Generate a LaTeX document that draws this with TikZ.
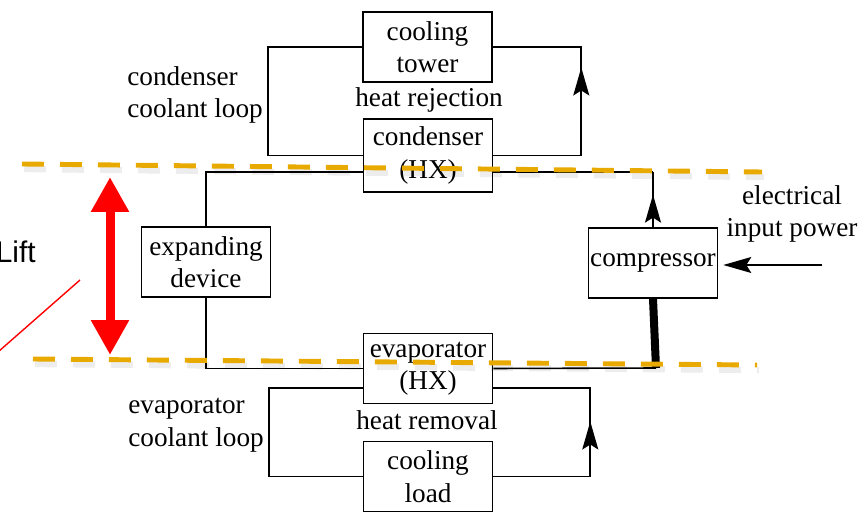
\documentclass[tikz,border=0pt]{standalone}
\usepackage{fontspec}
\setmainfont{Liberation Serif}
\newfontfamily\liftfont{Liberation Sans}
\usetikzlibrary{arrows.meta,calc}

\definecolor{gold}{HTML}{E8AA00}
\tikzstyle{block} = [draw, fill=white, line width=0.9pt, minimum width=2.58cm, minimum height=1.4cm, inner sep=1pt, align=center, font=\rmfamily\fontsize{15.5}{18.5}\selectfont]
\tikzstyle{note} = [align=left, inner sep=0pt, font=\rmfamily\fontsize{15.5}{18.5}\selectfont]
\tikzstyle{pipe} = [line width=0.9pt]
\tikzstyle{flow} = [pipe, -{Stealth[length=0.56cm,width=0.32cm,inset=0.1cm]}]
\tikzstyle{templine} = [line width=2.8pt, gold, dash pattern=on 0.44cm off 0.32cm]
\tikzstyle{tempshadow} = [templine, line width=3.6pt, black, opacity=0.07]
\tikzstyle{liftarrow} = [red, line width=0.18cm, {Triangle[length=0.7cm,width=0.72cm]}-{Triangle[length=0.7cm,width=0.72cm]}]

\begin{document}
\begin{tikzpicture}[x=0.02cm, y=-0.02cm]
\useasboundingbox (0,0) rectangle (868,513);
%blokken
\node[block] (tower) at (427.5,47) {cooling\\tower};
\node[block, minimum height=1.46cm] (cond) at (428,155.5) {condenser\\(HX)};
\node[block] (exp) at (206,262) {expanding\\device};
\node[block] (comp) at (653,263) {compressor};
\node[block] (evap) at (428,368.5) {evaporator\\(HX)};
\node[block] (load) at (428,476.5) {cooling\\load};
%begin koelmiddel-kring
\coordinate (ctop) at (653,172);
\coordinate (cbot) at (656,368);
\draw[pipe] (exp.north) |- (cond.west |- ctop);
\draw[pipe] (cond.east |- ctop) -- (ctop);
\draw[pipe] (comp.north) -- (ctop);
\draw[flow] (comp.north) -- ($(comp.north)!0.59!(ctop)$);
\draw[pipe] (exp.south) |- (evap.west);
\draw[pipe] (evap.east) -- (cbot);
\draw[line width=1.6mm] (cbot) -- (comp.south);
%end koelmiddel-kring
%begin condensor-kring
\draw[pipe] (cond.west) -- ++(-95,0) |- (tower.west);
\draw[pipe] (tower.east) -| ($(cond.east)+(88,0)$) -- (cond.east);
\draw[flow] ($(cond.east)+(88,0)$) -- ++(0,-88);
\node[note, anchor=west] (condloop) at (127,95) {condenser\\coolant loop};
\node[note] (reject) at (429,100) {heat rejection};
%end condensor-kring
%begin verdamper-kring
\draw[pipe] ($(evap.west)+(0,19.5)$) -- ++(-94,0) |- (load.west);
\draw[pipe] ($(evap.east)+(0,19.5)$) -- ++(97,0) |- (load.east);
\draw[flow] ($(load.east)+(97,0)$) -- ++(0,-55);
\node[note, anchor=west] (evaploop) at (128,425) {evaporator\\coolant loop};
\node[note] (remove) at (427,420) {heat removal};
%end verdamper-kring
%begin vermogen
\node[note, align=center] (power) at (792,214) {electrical\\input power};
\coordinate (plug) at (822,265);
\draw[flow, shorten >=0.1cm] (plug) -- (comp.east |- plug);
%end vermogen
%begin temperatuurniveaus
\coordinate (hiL) at (22,164);
\coordinate (hiR) at (762,172);
\coordinate (loL) at (33,359);
\coordinate (loR) at (757,365);
\draw[tempshadow] ($(hiL)+(2,5)$) -- ($(hiR)+(2,5)$);
\draw[tempshadow] ($(loL)+(2,5)$) -- ($(loR)+(2,5)$);
\draw[templine] (hiL) -- (hiR);
\draw[templine] (loL) -- (loR);
%end temperatuurniveaus
%begin lift
\coordinate (liftT) at (110,177);
\coordinate (liftB) at (110,355);
\draw[liftarrow] (liftB) -- (liftT);
\coordinate (ptr) at (80,280);
\draw[red, line width=0.8pt] (ptr) -- ++(-90,79);
\node[font=\liftfont\fontsize{17}{20}\selectfont, anchor=base east, inner sep=0pt] (lift) at (36,262) {Lift};
%end lift
\end{tikzpicture}
\end{document}
